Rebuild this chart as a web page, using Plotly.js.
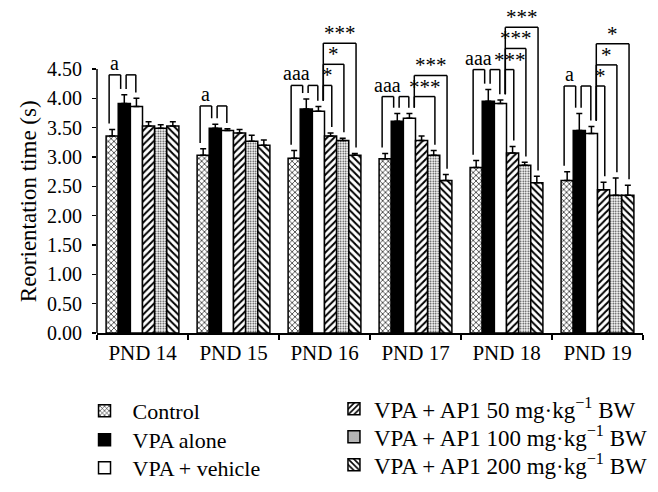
<!DOCTYPE html>
<html><head><meta charset="utf-8">
<script src="https://cdn.plot.ly/plotly-3.0.1.min.js"></script>
<style>html,body{margin:0;padding:0;background:#fff}#chart{width:658px;height:492px}</style>
</head><body><div id="chart"></div>
<script>
// ---- data ----
const categories = ['PND 14', 'PND 15', 'PND 16', 'PND 17', 'PND 18', 'PND 19'];
const seriesNames = ['Control', 'VPA alone', 'VPA + vehicle',
  'VPA + AP1 50 mg·kg<sup>−1</sup> BW', 'VPA + AP1 100 mg·kg<sup>−1</sup> BW', 'VPA + AP1 200 mg·kg<sup>−1</sup> BW'];
const control     = [3.36, 3.03, 2.98, 2.97, 2.82, 2.60];
const controlErr  = [0.11, 0.11, 0.13, 0.09, 0.12, 0.15];
const vpaAlone    = [3.91, 3.49, 3.82, 3.61, 3.95, 3.45];
const vpaAloneErr = [0.15, 0.07, 0.17, 0.13, 0.20, 0.29];
const vehicle     = [3.86, 3.45, 3.78, 3.66, 3.91, 3.40];
const vehicleErr  = [0.14, 0.03, 0.08, 0.08, 0.06, 0.12];
const ap50        = [3.53, 3.41, 3.36, 3.28, 3.07, 2.44];
const ap50Err     = [0.07, 0.06, 0.05, 0.08, 0.11, 0.13];
const ap100       = [3.49, 3.27, 3.28, 3.03, 2.86, 2.35];
const ap100Err    = [0.06, 0.10, 0.04, 0.08, 0.05, 0.29];
const ap200       = [3.53, 3.20, 3.03, 2.60, 2.56, 2.35];
const ap200Err    = [0.07, 0.09, 0.03, 0.10, 0.11, 0.17];
// significance marks and the height of their lowest bracket
const sigVsControl = ['a', 'a', 'aaa', 'aaa', 'aaa', 'a'];
const sigVsVehicle = [[null, null, null], [null, null, null], ['*', '*', '***'],
                      [null, '***', '***'], ['***', '***', '***'], ['*', '*', '*']];
const sigBracketLevel = [4.40, 3.87, 4.22, 4.03, 4.49, 4.21];
const yTickVals = [0, 0.5, 1, 1.5, 2, 2.5, 3, 3.5, 4, 4.5];
const yTickText = ['0.00', '0.50', '1.00', '1.50', '2.00', '2.50', '3.00', '3.50', '4.00', '4.50'];
const yTitle = 'Reorientation time (s)';

// ---- styles ----
const FONT = '"Liberation Serif", "Times New Roman", Times, serif';
const values = [control, vpaAlone, vehicle, ap50, ap100, ap200];
const errors = [controlErr, vpaAloneErr, vehicleErr, ap50Err, ap100Err, ap200Err];
const fills = ['white', 'black', 'white', 'white', 'white', 'white'];
const patterns = [
  {shape: 'x', size: 4, solidity: 0.3, fgcolor: 'black', bgcolor: 'white', fillmode: 'replace'},
  {shape: ''}, {shape: ''},
  {shape: '/', size: 5, solidity: 0.4, fgcolor: 'black', bgcolor: 'white', fillmode: 'replace'},
  {shape: '.', size: 2.5, solidity: 0.35, fgcolor: '#333', bgcolor: 'white', fillmode: 'replace'},
  {shape: '\\', size: 5, solidity: 0.4, fgcolor: 'black', bgcolor: 'white', fillmode: 'replace'}
];
const legendNames = ['legend', 'legend2', 'legend3', 'legend4', 'legend5', 'legend6'];

const traces = values.map((v, i) => ({
  type: 'bar', x: categories, y: v, name: seriesNames[i],
  legend: legendNames[i],
  marker: {color: fills[i], line: {color: 'black', width: 1.5}, pattern: patterns[i]},
  error_y: {type: 'data', array: errors[i], arrayminus: errors[i].map(() => 0), symmetric: false,
            color: 'black', thickness: 1.5, width: 3},
  hoverinfo: 'skip'
}));

// geometry of grouped bars (category units)
const nSeries = values.length, groupW = 0.8, barW = groupW / nSeries;
const barX = (c, i) => c - groupW / 2 + barW * (i + 0.5);
const errTop = (c, i) => values[i][c] + errors[i][c];
const GAP = 0.1, STEP = 0.36;

const shapes = [], annotations = [];
const lineStyle = {color: 'black', width: 1.5};
function bracket(c, a, b, level, dxa, dxb, label) {
  const xa = barX(c, a) + dxa * barW, xb = barX(c, b) + dxb * barW;
  shapes.push({type: 'line', xref: 'x', yref: 'y', x0: xa, x1: xa, y0: errTop(c, a) + GAP, y1: level, line: lineStyle});
  shapes.push({type: 'line', xref: 'x', yref: 'y', x0: xa, x1: xb, y0: level, y1: level, line: lineStyle});
  shapes.push({type: 'line', xref: 'x', yref: 'y', x0: xb, x1: xb, y0: errTop(c, b) + GAP, y1: level, line: lineStyle});
  if (label) {
    const star = label.indexOf('*') >= 0;
    annotations.push({xref: 'x', yref: 'y', x: (xa + xb) / 2, y: level, text: label, showarrow: false,
      yanchor: 'bottom', xanchor: 'center', yshift: star ? -4 : -1,
      font: {family: FONT, size: star ? 21 : 20, color: 'black'}});
  }
}
categories.forEach((cat, c) => {
  const base = sigBracketLevel[c];
  bracket(c, 0, 1, base, -0.25, -0.3, sigVsControl[c]);
  bracket(c, 1, 2, base, 0.15, -0.05, null);
  let k = 0;
  sigVsVehicle[c].forEach((s, j) => {
    if (!s) return;
    bracket(c, 2, 3 + j, base + k * STEP, 0.4, 0.1, s);
    k++;
  });
});
// y axis line from 0 to 4.50
shapes.push({type: 'line', xref: 'paper', yref: 'y', x0: 0, x1: 0, y0: 0, y1: yTickVals[yTickVals.length - 1], line: lineStyle, layer: 'above'});
annotations.push({xref: 'paper', yref: 'y', x: -0.126, y: yTickVals[yTickVals.length - 1] / 2, text: yTitle,
  textangle: -90, showarrow: false, xanchor: 'center', yanchor: 'middle', font: {family: FONT, size: 23, color: 'black'}});

// legend placement: two columns of three rows
const legendX = [-0.0375, -0.0375, -0.0375, 0.434, 0.434, 0.434];
const legendY = [-0.234, -0.321, -0.405, -0.228, -0.312, -0.396];
const legendItemW = [46, 46, 46, 30, 30, 30];
const legendFontSize = [22, 22, 22, 23, 23, 23];

const layout = {
  width: 658, height: 492,
  margin: {l: 97, r: 15, t: 0, b: 159},
  paper_bgcolor: 'white', plot_bgcolor: 'white',
  barmode: 'group', bargap: 0.2, bargroupgap: 0,
  font: {family: FONT, size: 20, color: 'black'},
  xaxis: {type: 'category', range: [-0.5, 5.5], showline: true, linecolor: 'black', linewidth: 1.5,
          ticks: 'outside', tickson: 'boundaries', ticklen: 5, tickwidth: 1.5, tickcolor: 'black',
          showgrid: false, zeroline: false, tickfont: {family: FONT, size: 21, color: 'black'}},
  yaxis: {range: [0, 5.676], showline: false, showgrid: false, zeroline: false,
          tickvals: yTickVals, ticktext: yTickText, ticks: 'outside', ticklen: 4, tickwidth: 1.5,
          tickcolor: 'black', ticklabelstandoff: 6, tickfont: {family: FONT, size: 20, color: 'black'}},
  shapes: shapes, annotations: annotations, showlegend: true
};
legendNames.forEach((ln, i) => {
  layout[ln] = {x: legendX[i], xanchor: 'left', y: legendY[i], yanchor: 'middle', orientation: 'v',
    itemwidth: legendItemW[i], font: {family: FONT, size: legendFontSize[i], color: 'black'},
    bgcolor: 'rgba(0,0,0,0)', borderwidth: 0, tracegroupgap: 0};
});
Plotly.newPlot('chart', traces, layout, {displayModeBar: false, staticPlot: true});
</script>
</body></html>
